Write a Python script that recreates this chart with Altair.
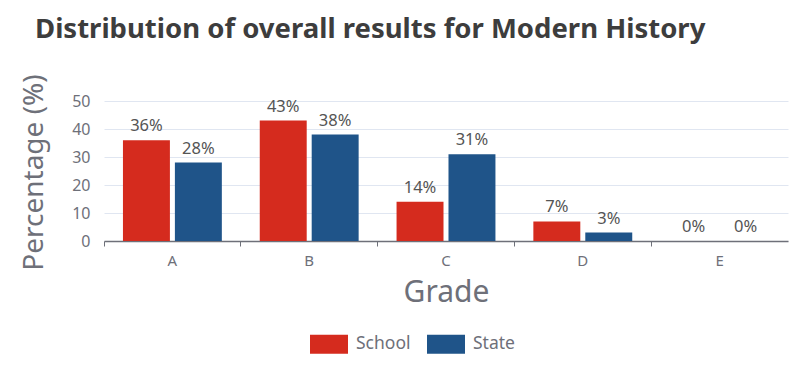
import altair as alt
import pandas as pd

grades = ["A", "B", "C", "D", "E"]
school = [36, 43, 14, 7, 0]
state = [28, 38, 31, 3, 0]
series = ["School", "State"]
colors = ["#d52b1e", "#1f5489"]

rows = []
for g, a, b in zip(grades, school, state):
    rows.append({"Grade": g, "Series": "School", "Value": a})
    rows.append({"Grade": g, "Series": "State", "Value": b})
df = pd.DataFrame(rows)
df["Label"] = df["Value"].astype(str) + "%"

FONT = "Noto Sans"
AX = "#6e7079"

x = alt.X("Grade:N", sort=grades,
          scale=alt.Scale(paddingInner=0, paddingOuter=0),
          axis=alt.Axis(title="Grade", labelAngle=0, labelFontSize=15, labelColor=AX,
                        labelFont=FONT, titleFont=FONT, titleFontSize=30, titleColor=AX,
                        titleFontWeight="normal", domainColor=AX, tickColor=AX, tickSize=5,
                        labelPadding=7, titlePadding=9, bandPosition=0, grid=False, domainWidth=1.5))
xo = alt.XOffset("Series:N", sort=series,
                 scale=alt.Scale(paddingInner=0.096, paddingOuter=0.365))
y = alt.Y("Value:Q", scale=alt.Scale(domain=[0, 50]),
          axis=alt.Axis(title="Percentage (%)", values=[0, 10, 20, 30, 40, 50], labelFontSize=16,
                        labelColor=AX, labelFont=FONT, titleFont=FONT, titleFontSize=28,
                        titleColor=AX, titleFontWeight="normal", ticks=False, domain=False,
                        gridColor="#e0e6f1", labelPadding=14, titleX=-70, titleY=71,
                        titleAlign="center", titleBaseline="middle", titleAngle=-90))
color = alt.Color("Series:N", sort=series,
                  scale=alt.Scale(domain=series, range=colors),
                  legend=alt.Legend(title=None, orient="none", legendX=206, legendY=224,
                                    direction="horizontal", labelFontSize=17.5, labelColor=AX,
                                    labelFont=FONT, symbolType="M-1,-0.5L1,-0.5L1,0.5L-1,0.5Z",
                                    symbolSize=1444, symbolStrokeWidth=0, symbolOpacity=1,
                                    columnPadding=16, labelOffset=8))

bars = alt.Chart(df).mark_bar(cornerRadius=0).encode(x=x, xOffset=xo, y=y, color=color)
labels = alt.Chart(df).mark_text(baseline="bottom", dy=-6, fontSize=16.5, color="#555555",
                                 font=FONT).encode(x=x, xOffset=xo, y=y, text="Label:N")

chart = (bars + labels).properties(
    width=684, height=140,
    autosize=alt.AutoSizeParams(type="none"),
    padding={"left": 96, "top": 93, "right": 11, "bottom": 133},
    title=alt.TitleParams("Distribution of overall results for Modern History", anchor="start",
                          frame="group", dx=-69, fontSize=27.5, font=FONT, fontWeight="bold",
                          color="#3d3d3d", offset=30),
).configure_view(stroke=None)

chart.save("out.html", embed_options={"renderer": "svg", "actions": False})
